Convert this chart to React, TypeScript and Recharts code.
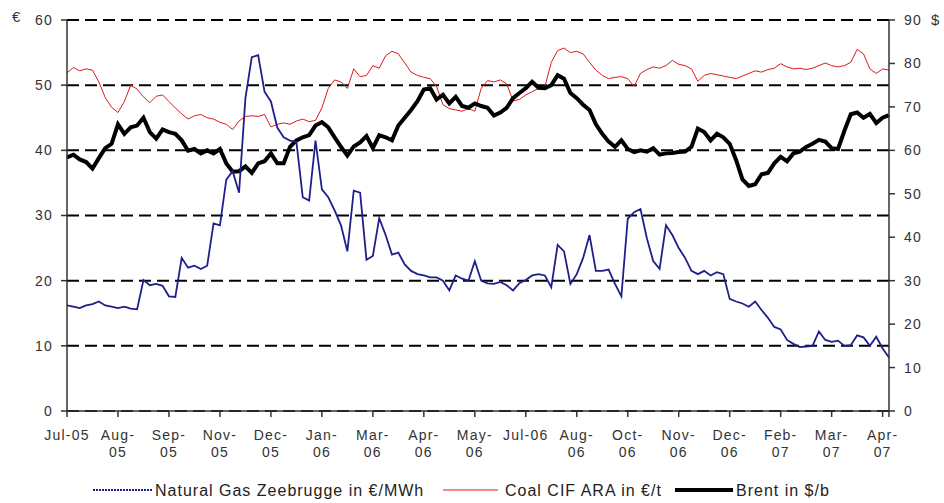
import React from 'react';
import { LineChart, Line, XAxis, YAxis, CartesianGrid } from 'recharts';

// one sample every ~6.4px of the original chart (8 per axis label step)
const gasEurMwh = [
  16.2, 16.0, 15.8, 16.2, 16.4, 16.8, 16.2, 16.0, 15.8, 16.0,
  15.7, 15.6, 20.1, 19.3, 19.5, 19.2, 17.6, 17.5, 23.5, 22.0,
  22.3, 21.8, 22.3, 28.8, 28.5, 35.5, 36.8, 33.5, 48.0, 54.3,
  54.6, 49.0, 47.5, 43.5, 42.0, 41.5, 41.3, 32.8, 32.3, 41.5,
  34.0, 32.8, 30.8, 28.5, 24.5, 33.8, 33.5, 23.2, 23.8, 29.6,
  27.0, 24.0, 24.3, 22.5, 21.5, 21.0, 20.8, 20.5, 20.5, 20.0,
  18.5, 20.8, 20.3, 20.0, 23.0, 20.0, 19.6, 19.5, 19.8, 19.3,
  18.5, 19.6, 20.1, 20.8, 21.0, 20.8, 19.0, 25.5, 24.5, 19.5,
  21.0, 23.5, 27.0, 21.5, 21.5, 21.7, 19.5, 17.6, 29.5, 30.5,
  31.0, 26.5, 23.0, 21.8, 28.5, 27.0, 25.0, 23.5, 21.5, 21.0,
  21.5, 20.8, 21.3, 21.0, 17.2, 16.8, 16.5, 16.0, 16.8, 15.5,
  14.3, 12.9, 12.5, 10.9, 10.3, 9.8, 9.9, 10.0, 12.2, 10.9,
  10.6, 10.8, 10.0, 10.1, 11.6, 11.3, 10.0, 11.4, 9.6, 8.2,
];

const coalEurT = [
  51.9, 52.7, 52.2, 52.5, 52.3, 50.5, 48.1, 46.6, 45.8, 47.5,
  50.0, 49.4, 48.2, 47.3, 48.3, 48.5, 47.5, 46.5, 45.6, 44.8,
  45.3, 45.5, 45.0, 44.8, 44.3, 44.0, 43.2, 44.5, 45.2, 45.3,
  45.2, 45.5, 43.6, 44.0, 44.2, 44.0, 44.5, 44.8, 44.4, 44.6,
  46.5, 49.5, 50.8, 50.5, 49.5, 52.5, 51.3, 51.5, 53.0, 52.6,
  54.5, 55.2, 54.8, 53.4, 52.0, 51.5, 51.2, 51.0, 49.8, 47.0,
  46.4, 46.2, 46.0, 46.4, 46.0, 49.5, 50.7, 50.5, 50.8, 50.2,
  47.6, 47.8, 48.5, 49.0, 49.5, 49.8, 53.5, 55.3, 55.7, 55.0,
  55.2, 54.8, 53.5, 52.3, 51.5, 51.0, 51.2, 51.3, 51.0, 49.8,
  51.8, 52.4, 52.8, 52.6, 53.0, 53.8, 53.2, 53.0, 52.5, 50.6,
  51.5, 51.8, 51.6, 51.4, 51.2, 51.0, 51.4, 51.8, 52.2, 52.0,
  52.4, 52.6, 53.3, 52.8, 52.5, 52.6, 52.4, 52.6, 53.0, 53.4,
  53.0, 52.8, 53.0, 53.5, 55.5, 54.8, 52.5, 51.8, 52.5, 52.3,
];

const brentUsdB = [
  58.4, 59.0, 57.9, 57.3, 55.8, 58.2, 60.5, 61.5, 66.0, 63.8,
  65.3, 65.7, 67.5, 64.2, 62.7, 64.8, 64.2, 63.8, 62.3, 59.9,
  60.3, 59.3, 60.0, 59.3, 60.3, 57.0, 55.1, 55.2, 56.3, 54.8,
  57.0, 57.5, 59.3, 57.0, 57.0, 60.8, 62.3, 63.0, 63.5, 65.7,
  66.5, 65.3, 63.0, 60.8, 58.8, 60.9, 61.8, 63.3, 60.5, 63.5,
  63.0, 62.3, 65.7, 67.5, 69.3, 71.3, 74.0, 74.3, 71.7, 72.8,
  70.8, 72.3, 70.2, 69.8, 70.8, 70.2, 69.8, 68.0, 68.7, 69.8,
  72.0, 73.2, 74.3, 75.8, 74.4, 74.3, 75.0, 77.3, 76.5, 73.2,
  72.0, 70.5, 69.3, 66.0, 63.8, 62.0, 60.8, 62.3, 60.3, 59.6,
  60.0, 59.7, 60.5, 59.0, 59.3, 59.4, 59.6, 59.7, 60.8, 65.0,
  64.2, 62.3, 63.8, 63.0, 61.5, 57.8, 53.3, 51.8, 52.2, 54.5,
  54.8, 57.0, 58.5, 57.5, 59.3, 59.7, 60.8, 61.5, 62.4, 62.0,
  60.5, 60.3, 64.5, 68.3, 68.7, 67.5, 68.4, 66.3, 67.5, 68.1,
];

const xTickLabels = [
  ['Jul-05'], ['Aug-', '05'], ['Sep-', '05'], ['Nov-', '05'], ['Dec-', '05'],
  ['Jan-', '06'], ['Mar-', '06'], ['Apr-', '06'], ['May-', '06'], ['Jul-06'],
  ['Aug-', '06'], ['Oct-', '06'], ['Nov-', '06'], ['Dec-', '06'], ['Feb-', '07'],
  ['Mar-', '07'], ['Apr-', '07'],
];
const eurTicks = [0, 10, 20, 30, 40, 50, 60];
const usdTicks = [0, 10, 20, 30, 40, 50, 60, 70, 80, 90];

const STEP = 8;
const LAST = gasEurMwh.length - 1;
const xTicks = [...xTickLabels.map((_, k) => k * STEP), LAST];

const data = gasEurMwh.map((gas, i) => ({
  day: i,
  gas,
  coal: coalEurT[i],
  brent: brentUsdB[i],
}));

const FONT = '"Liberation Sans", Arial, sans-serif';
const TXT = '#333';

const MonthTick = (props: any) => {
  const { x, y, payload } = props;
  const lines = xTickLabels[payload.value / STEP] || [];
  return (
    <text x={x} y={y} textAnchor="middle" fontSize={14} fill={TXT} fontFamily={FONT} letterSpacing={1.2}>
      {lines.map((l, j) => (
        <tspan key={j} x={x} dy={j === 0 ? 19 : 17}>{l}</tspan>
      ))}
    </text>
  );
};

export default function App() {
  const tickStyle = { fontSize: 14, fill: TXT, fontFamily: FONT, letterSpacing: 1.2 };
  return (
    <div style={{ position: 'absolute', left: 0, top: 0, width: 944, height: 503, background: '#fff' }}>
      <LineChart width={944} height={503} data={data} margin={{ top: 20, right: 0, left: 0, bottom: 47 }}>
        <CartesianGrid yAxisId="left" vertical={false} stroke="#000" strokeWidth={2} strokeDasharray="12 6" />
        <XAxis
          type="number"
          dataKey="day"
          domain={[0, LAST]}
          ticks={xTicks}
          interval={0}
          height={45}
          tick={<MonthTick />}
          tickSize={6}
          tickMargin={4}
          tickLine={{ stroke: '#333', strokeWidth: 1.5 }}
          axisLine={{ stroke: '#333', strokeWidth: 1.5 }}
        />
        <YAxis
          yAxisId="left"
          width={67}
          domain={[0, 60]}
          ticks={eurTicks}
          interval={0}
          tick={tickStyle}
          tickSize={6}
          tickMargin={8}
          tickLine={{ stroke: '#333', strokeWidth: 1.5 }}
          axisLine={{ stroke: '#333', strokeWidth: 1.5 }}
        />
        <YAxis
          yAxisId="right"
          orientation="right"
          width={55}
          domain={[0, 90]}
          ticks={usdTicks}
          interval={0}
          tick={{ ...tickStyle, textAnchor: 'start' }}
          tickSize={6}
          tickMargin={9}
          tickLine={{ stroke: '#333', strokeWidth: 1.5 }}
          axisLine={{ stroke: '#333', strokeWidth: 1.5 }}
        />
        <Line yAxisId="left" type="linear" dataKey="coal" stroke="#dd1a1a" strokeWidth={1} dot={false} isAnimationActive={false} />
        <Line yAxisId="right" type="linear" dataKey="brent" stroke="#000" strokeWidth={4} dot={false} isAnimationActive={false} />
        <Line yAxisId="left" type="linear" dataKey="gas" stroke="#1f1f8c" strokeWidth={1.8} dot={false} isAnimationActive={false} />
      </LineChart>

      <svg width={944} height={503} style={{ position: 'absolute', left: 0, top: 0, pointerEvents: 'none' }}>
        <g fontFamily={FONT} fill={TXT}>
          <text x={12} y={22} fontSize={15}>€</text>
          <text x={931} y={25} fontSize={15}>$</text>
        </g>
        <g fontFamily={FONT} fill="#222" fontSize={16} letterSpacing={1}>
          <line x1={93} y1={490} x2={152} y2={490} stroke="#1f1f8c" strokeWidth={2} strokeDasharray="2 1" />
          <text x={155} y={496}>Natural Gas Zeebrugge in €/MWh</text>
          <line x1={443} y1={490} x2={498} y2={490} stroke="#dd1a1a" strokeWidth={1} />
          <text x={505} y={496}>Coal CIF ARA in €/t</text>
          <line x1={675} y1={490} x2={733} y2={490} stroke="#000" strokeWidth={4} />
          <text x={736} y={496}>Brent in $/b</text>
        </g>
      </svg>
    </div>
  );
}
